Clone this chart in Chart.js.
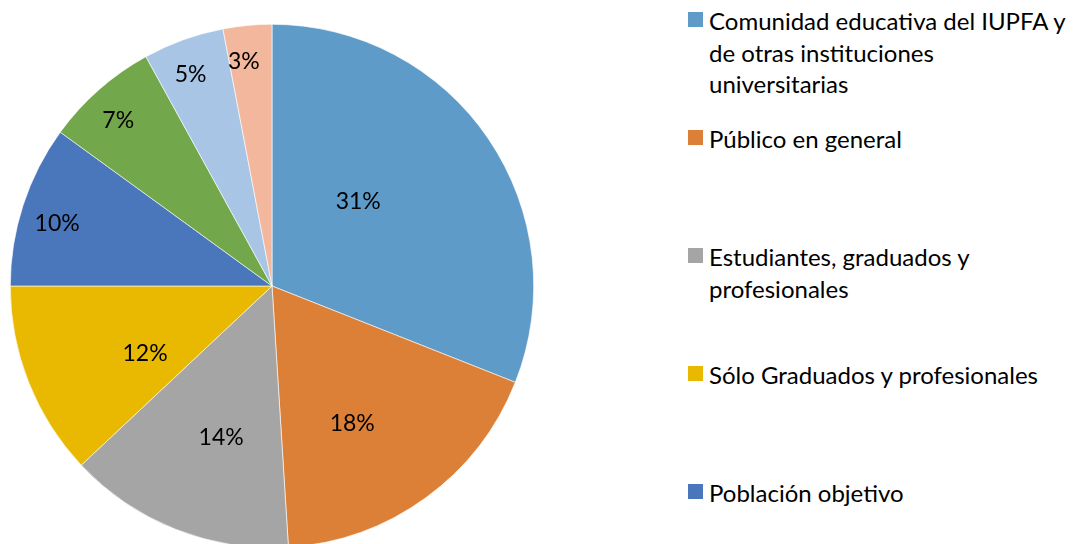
<!DOCTYPE html>
<html><head><meta charset="utf-8">
<script src="https://cdn.jsdelivr.net/npm/chart.js@4.4.1/dist/chart.umd.min.js"></script>
<style>
html,body{margin:0;padding:0;background:#fff;overflow:hidden;width:1074px;height:544px;}
#wrap{position:absolute;left:0;top:0;width:544px;height:572px;}
#legend{position:absolute;left:688px;top:0;width:386px;font-family:Lato,sans-serif;color:#000;}
.item{position:absolute;left:0;width:386px;}
.sw{position:absolute;left:0;width:15px;height:15px;}
.tx{position:absolute;left:21px;width:366px;font-size:24px;line-height:31.5px;}
</style></head>
<body>
<div id="wrap"><canvas id="c"></canvas></div>
<div id="legend"></div>
<script>
const categories = [
  "Comunidad educativa del IUPFA y de otras instituciones universitarias",
  "Público en general",
  "Estudiantes, graduados y profesionales",
  "Sólo Graduados y profesionales",
  "Población objetivo",
  "", "", ""
];
const shares = [31, 18, 14, 12, 10, 7, 5, 3];
const colors = ["#5F9BC9", "#DD8037", "#A5A5A5", "#E8B900", "#4A77BB", "#72A74C", "#A8C5E5", "#F2B79C"];

// label placement inside slices (fraction of slice angle, fraction of radius)
const labelPlace = [[0.41,0.46],[0.59,0.61],[0.44,0.61],[0.35,0.55],[0.45,0.855],[0.44,0.863],[0.43,0.866],[0.34,0.866]];

const FONT = 'Lato';
const pctLabels = {
  id: 'pctLabels',
  afterDatasetsDraw(chart) {
    const ctx = chart.ctx;
    const meta = chart.getDatasetMeta(0);
    ctx.save();
    ctx.font = '23px ' + FONT;
    ctx.fillStyle = '#000';
    ctx.textAlign = 'center';
    ctx.textBaseline = 'middle';
    meta.data.forEach((arc, i) => {
      const p = arc.getProps(['x','y','startAngle','endAngle','outerRadius'], true);
      const pl = labelPlace[i];
      const a = p.startAngle + (p.endAngle - p.startAngle) * pl[0];
      const r = p.outerRadius * pl[1];
      ctx.fillText(shares[i] + '%', p.x + Math.cos(a) * r, p.y + Math.sin(a) * r);
    });
    ctx.restore();
  }
};

new Chart(document.getElementById('c'), {
  type: 'pie',
  data: { labels: categories, datasets: [{ data: shares, backgroundColor: colors, borderColor: '#fff', borderWidth: 0.6 }] },
  options: {
    responsive: true, maintainAspectRatio: false, animation: false,
    layout: { padding: 10 },
    plugins: { legend: { display: false }, tooltip: { enabled: false } }
  },
  plugins: [pctLabels]
});

const lg = document.getElementById('legend');
categories.forEach((c, i) => {
  if (!c) return;
  const it = document.createElement('div');
  it.className = 'item';
  it.style.top = (12 + 118 * i) + 'px';
  const sw = document.createElement('div');
  sw.className = 'sw'; sw.style.background = colors[i]; sw.style.top = '0px';
  const tx = document.createElement('div');
  tx.className = 'tx'; tx.style.top = '-7px'; tx.textContent = c;
  it.appendChild(sw); it.appendChild(tx);
  lg.appendChild(it);
});
</script>
</body></html>
